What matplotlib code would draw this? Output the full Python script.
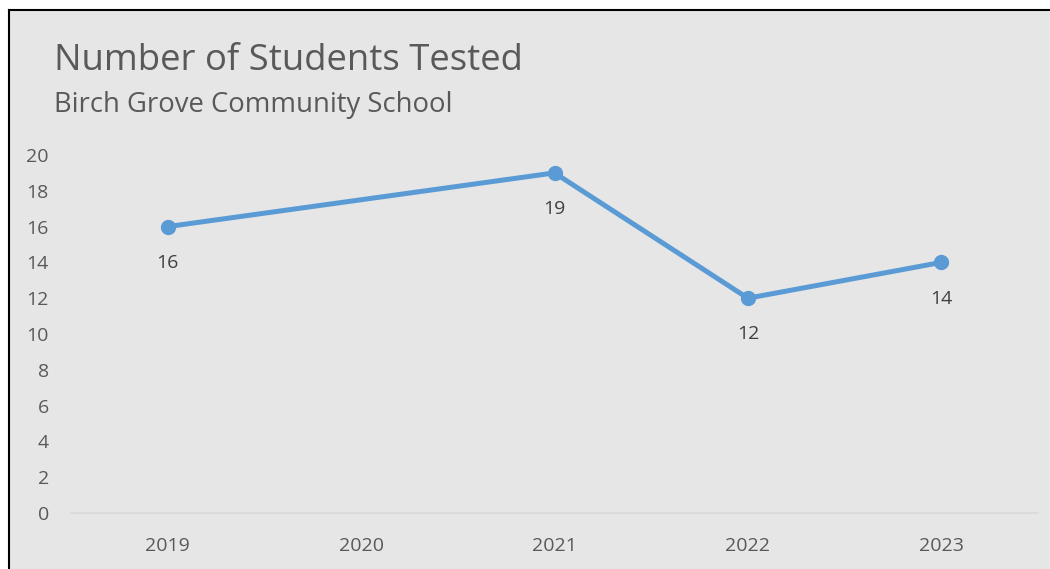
import numpy as np
import matplotlib
matplotlib.use("Agg")
import matplotlib.pyplot as plt
from matplotlib.lines import Line2D
from matplotlib.patches import Rectangle

years = ["2019", "2020", "2021", "2022", "2023"]
students = [16, None, 19, 12, 14]
y_ticks = list(range(0, 21, 2))

title = "Number of Students Tested"
subtitle = "Birch Grove Community School"

W, H = 1050, 569
plt.rcParams["font.family"] = ["Open Sans", "DejaVu Sans"]

fig = plt.figure(figsize=(W / 100, H / 100), dpi=100, facecolor="white")

# chart area background and frame
bg = "#E6E6E6"
fig.patches.append(Rectangle((9 / W, 0), 1 - 9 / W, 1 - 10 / H, transform=fig.transFigure,
                             facecolor=bg, edgecolor="none", zorder=-2))
fig.lines.append(Line2D([9 / W, 9 / W], [0, 1 - 10 / H], transform=fig.transFigure,
                        color="black", lw=1.5, zorder=-1))
fig.lines.append(Line2D([9 / W, 1], [1 - 10 / H, 1 - 10 / H], transform=fig.transFigure,
                        color="black", lw=1.5, zorder=-1))

left, right = 71 / W, 1038 / W
bottom, top = 1 - 513 / H, 1 - 155 / H
ax = fig.add_axes([left, bottom, right - left, top - bottom])
ax.set_zorder(2)
ax.set_facecolor("none")

x = np.arange(len(years))
vals = np.array([np.nan if v is None else v for v in students], dtype=float)
mask = ~np.isnan(vals)

ax.plot(x[mask], vals[mask], color="#5B9BD5", lw=3.6, marker="o", markersize=10,
        solid_capstyle="round", solid_joinstyle="round", zorder=3, clip_on=False)

for xi, v in zip(x[mask], vals[mask]):
    ax.annotate(f"{int(v)}", (xi, v), xytext=(0, -26), textcoords="offset points",
                ha="center", va="center", fontsize=14, color="#404040")

ax.set_xlim(-0.5, len(years) - 0.5)
ax.set_ylim(0, 20)
ax.set_xticks(x)
ax.set_xticklabels(years)
ax.set_yticks(y_ticks)
ax.tick_params(axis="both", length=0, labelsize=14, labelcolor="#595959")
ax.tick_params(axis="y", pad=16)
ax.tick_params(axis="x", pad=17)

for s in ["top", "right", "left"]:
    ax.spines[s].set_visible(False)
ax.spines["bottom"].set_color("#D9D9D9")
ax.spines["bottom"].set_linewidth(1.2)

fig.text(54 / W, 1 - 70 / H, title, fontsize=26.3, color="#595959", ha="left", va="baseline")
fig.text(54 / W, 1 - 112 / H, subtitle, fontsize=19.8, color="#595959", ha="left", va="baseline")

fig.savefig("out.png", dpi=100, facecolor="white")
